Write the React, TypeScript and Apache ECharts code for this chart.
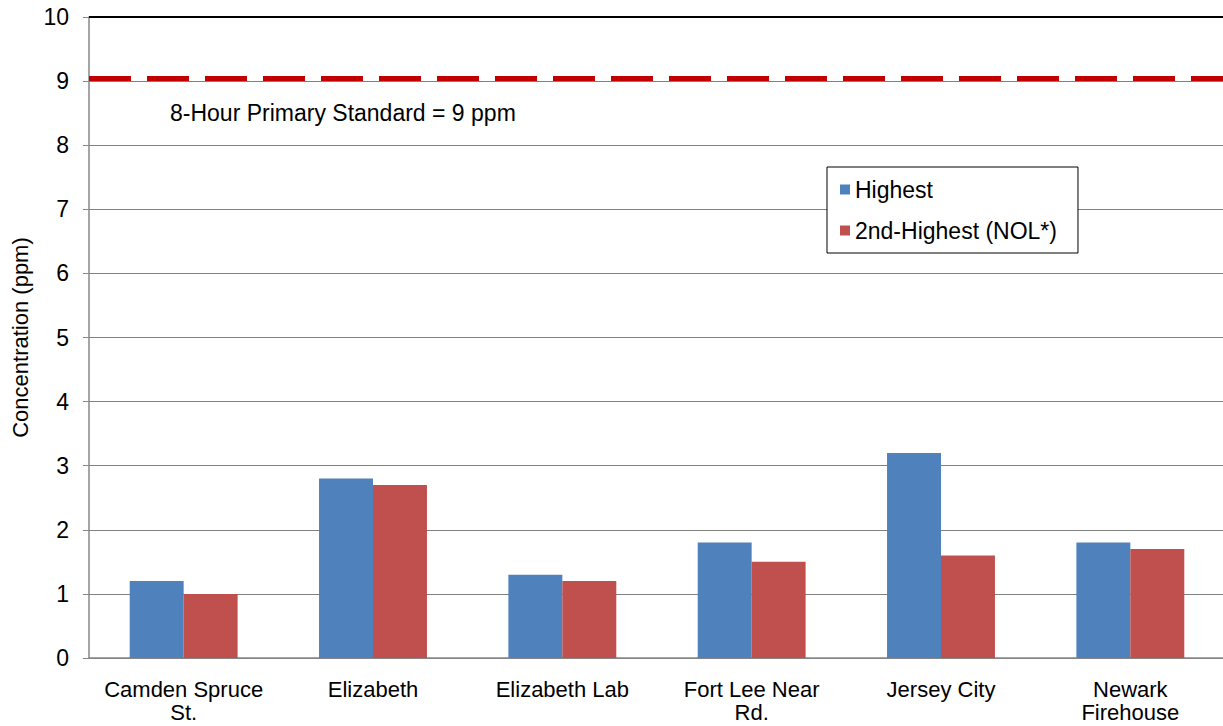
import React, { useEffect, useRef } from "react";
import * as echarts from "echarts";

const categories = [
  "Camden Spruce\nSt.",
  "Elizabeth",
  "Elizabeth Lab",
  "Fort Lee Near\nRd.",
  "Jersey City",
  "Newark\nFirehouse",
];
const highest = [1.2, 2.8, 1.3, 1.8, 3.2, 1.8];
const secondHighest = [1.0, 2.7, 1.2, 1.5, 1.6, 1.7];
const standardValue = 9.055;
const standardLabel = "8-Hour Primary Standard = 9 ppm";
const seriesNames = ["Highest", "2nd-Highest (NOL*)"];
const yAxisName = "Concentration (ppm)";

const FONT = "'Liberation Sans', Arial, sans-serif";

export default function App() {
  const ref = useRef<HTMLDivElement>(null);
  useEffect(() => {
    if (!ref.current) return;
    const chart = echarts.init(ref.current, undefined, { renderer: "svg" });
    chart.setOption({
      animation: false,
      textStyle: { fontFamily: FONT, color: "#000" },
      grid: {
        left: 89,
        top: 17,
        bottom: 68,
        width: 1136,
        containLabel: false,
        outerBoundsMode: "none",
      },
      legend: {
        data: seriesNames,
        orient: "vertical",
        left: 827,
        top: 167,
        icon: "rect",
        itemWidth: 10,
        itemHeight: 10,
        itemGap: 18,
        padding: [11, 21, 11, 13],
        backgroundColor: "#fff",
        borderColor: "#000",
        borderWidth: 1,
        textStyle: { fontFamily: FONT, fontSize: 23, color: "#000" },
      },
      xAxis: {
        type: "category",
        data: categories,
        axisLine: { lineStyle: { color: "#878787", width: 1.5 } },
        axisTick: { show: false },
        axisLabel: {
          fontFamily: FONT,
          fontSize: 22,
          color: "#000",
          margin: 20,
          lineHeight: 23,
          interval: 0,
        },
      },
      yAxis: {
        type: "value",
        min: 0,
        max: 10,
        interval: 1,
        name: yAxisName,
        nameLocation: "middle",
        nameGap: 58,
        nameTextStyle: { fontFamily: FONT, fontSize: 22, color: "#000" },
        axisLine: { show: true, lineStyle: { color: "#878787", width: 1.5 } },
        axisTick: { show: true, length: 6, lineStyle: { color: "#878787" } },
        axisLabel: { fontFamily: FONT, fontSize: 23, color: "#000", margin: 20 },
        splitLine: { lineStyle: { color: "#808080", width: 1.2 } },
      },
      graphic: [
        {
          type: "text",
          left: 170,
          top: 101,
          style: { text: standardLabel, fontFamily: FONT, fontSize: 23, fill: "#000" },
        },
      ],
      series: [
        {
          name: seriesNames[0],
          type: "bar",
          data: highest,
          barGap: "0%",
          barCategoryGap: "43%",
          itemStyle: { color: "#4F81BD" },
          markLine: {
            symbol: "none",
            silent: true,
            label: { show: false },
            data: [
              { yAxis: 10, lineStyle: { color: "#000", width: 2, type: "solid" } },
              {
                yAxis: standardValue,
                lineStyle: { color: "#C00000", width: 5, type: [42, 16] },
              },
            ],
          },
        },
        {
          name: seriesNames[1],
          type: "bar",
          data: secondHighest,
          barGap: "0%",
          barCategoryGap: "43%",
          itemStyle: { color: "#C0504D" },
        },
      ],
    });
    return () => chart.dispose();
  }, []);
  return (
    <div
      ref={ref}
      style={{ position: "fixed", left: 0, top: 0, width: 1223, height: 726, background: "#fff" }}
    />
  );
}
